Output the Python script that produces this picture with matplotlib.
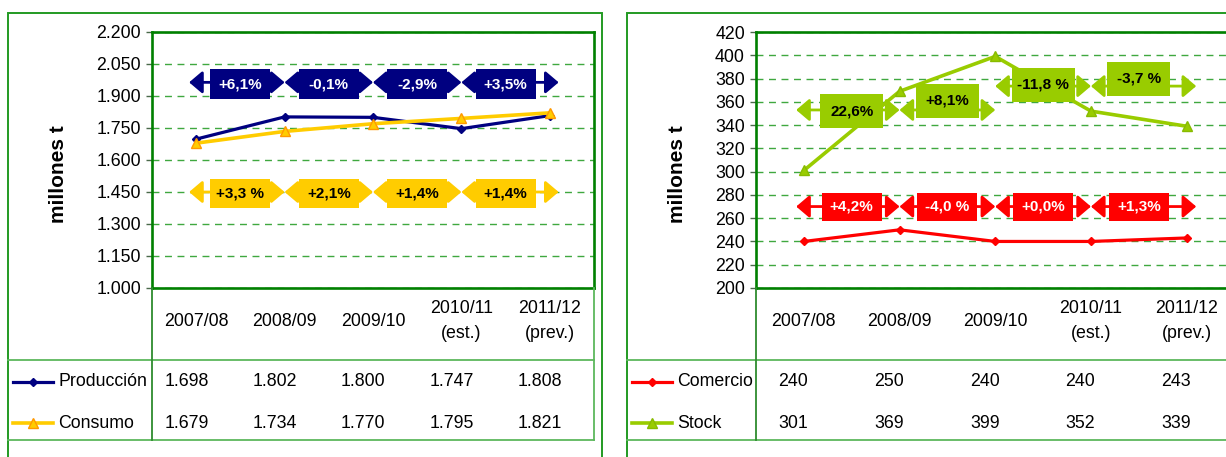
import matplotlib
matplotlib.use('Agg')
import matplotlib.pyplot as plt
from matplotlib.lines import Line2D
from matplotlib.patches import Rectangle
from matplotlib.ticker import FuncFormatter
from matplotlib.transforms import blended_transform_factory

plt.rcParams['font.family'] = ['Liberation Sans', 'DejaVu Sans']

# data
seasons = ['2007/08', '2008/09', '2009/10', '2010/11\n(est.)', '2011/12\n(prev.)']

produccion = [1698, 1802, 1800, 1747, 1808]
consumo = [1679, 1734, 1770, 1795, 1821]
comercio = [240, 250, 240, 240, 243]
stock = [301, 369, 399, 352, 339]

prod_pct = ['+6,1%', '-0,1%', '-2,9%', '+3,5%']
cons_pct = ['+3,3 %', '+2,1%', '+1,4%', '+1,4%']
com_pct = ['+4,2%', '-4,0 %', '+0,0%', '+1,3%']
stock_pct = ['22,6%', '+8,1%', '-11,8 %', '-3,7 %']

NAVY = '#000080'
YELLOW = '#FFCC00'
RED = '#FF0000'
LIME = '#99CC00'
DKGREEN = '#008000'
GRID = '#3FA83F'
TABLE = '#5DB85D'
FS = 12.8

W, H = 1226, 457
fig = plt.figure(figsize=(W / 100, H / 100), dpi=100)


def fx(px):
    return px / W


def fy(py):
    return 1 - py / H


def miles(v, pos=None):
    return f'{v:,.0f}'.replace(',', '.')


def setup_axes(left_px, width_px, ymin, ymax, step, fmt):
    ax = fig.add_axes([fx(left_px), fy(288), width_px / W, 256 / H])
    ax.set_xlim(-0.5, 4.5)
    ax.set_ylim(ymin, ymax)
    ax.set_yticks(range(ymin, ymax + 1, step))
    if fmt:
        ax.yaxis.set_major_formatter(FuncFormatter(fmt))
    ax.set_xticks([])
    ax.tick_params(axis='y', direction='out', length=4, width=1, color='#4A6A4A',
                   pad=4, labelsize=FS)
    ax.yaxis.grid(True, linestyle=(0, (5, 4)), color=GRID, lw=1)
    ax.set_axisbelow(True)
    for s in ax.spines.values():
        s.set_color(DKGREEN)
        s.set_linewidth(1.9)
    ax.px_w = width_px
    return ax


def pct_row(ax, labels, y_arrow, y_boxes, box_w, box_h, color, text_color):
    ymin, ymax = ax.get_ylim()
    xpp = 5 / ax.px_w
    ypp = (ymax - ymin) / 256
    bw = box_w * xpp
    bh = box_h * ypp
    for i, lab in enumerate(labels):
        x0 = i - 0.08 if i == 0 else i
        x1 = i + 1.1 if i == len(labels) - 1 else i + 1
        ya = y_arrow[i]
        ax.annotate('', xy=(x1, ya), xytext=(x0, ya),
                    arrowprops=dict(arrowstyle='<|-|>,head_length=0.8,head_width=0.68',
                                    mutation_scale=10, color=color, lw=2,
                                    shrinkA=0, shrinkB=0),
                    annotation_clip=False, zorder=4)
        xc = i + 0.5
        ax.add_patch(Rectangle((xc - bw / 2, y_boxes[i] - bh / 2), bw, bh,
                               facecolor=color, edgecolor='none', zorder=5))
        ax.text(xc, y_boxes[i], lab, ha='center', va='center', color=text_color,
                fontweight='bold', fontsize=11, zorder=6)


def fig_line(xs, ys, color, lw):
    fig.add_artist(Line2D([fx(x) for x in xs], [fy(y) for y in ys],
                          transform=fig.transFigure, color=color, lw=lw))


def panel_frame(x0, x_axis, x1, x_tab_right, ylabel_x):
    fig.add_artist(Rectangle((fx(x0), fy(470)), fx(x1) - fx(x0), fy(12.5) - fy(470),
                             transform=fig.transFigure, facecolor='none',
                             edgecolor='#229A22', lw=1.4))
    fig_line([x0, x_tab_right], [360, 360], TABLE, 1.3)
    fig_line([x0, x_tab_right], [440, 440], TABLE, 1.3)
    fig_line([x_axis, x_axis], [288, 440], '#2E8B2E', 1.3)
    fig.text(fx(ylabel_x), fy(174), 'millones t', rotation=90, ha='center', va='center',
             fontweight='bold', fontsize=15)


def table(ax, key_x0, names, series, styles, fmt):
    tr = blended_transform_factory(ax.transData, fig.transFigure)
    for i, s in enumerate(seasons):
        ax.text(i, fy(321), s, transform=tr, ha='center', va='center', fontsize=FS,
                linespacing=1.6, clip_on=False)
    for row, (name, vals, st) in enumerate(zip(names, series, styles)):
        yy = [382, 423][row]
        fig.add_artist(Line2D([fx(key_x0), fx(key_x0 + 20), fx(key_x0 + 40)], [fy(yy)] * 3,
                              transform=fig.transFigure, markevery=[1], **st))
        fig.text(fx(key_x0 + 45), fy(yy), name, ha='left', va='center', fontsize=FS)
        for i, v in enumerate(vals):
            ax.text(i - 0.11, fy(yy), fmt(v), transform=tr, ha='center', va='center',
                    fontsize=FS, clip_on=False)


# left panel
panel_frame(8, 152, 601.5, 594, 58)
fig_line([594, 594], [288, 440], TABLE, 1.3)
axL = setup_axes(152, 442, 1000, 2200, 150, miles)

prod_style = dict(color=NAVY, lw=2.3, marker='D', ms=4.5, mfc=NAVY, mec=NAVY)
cons_style = dict(color=YELLOW, lw=2.6, marker='^', ms=7, mfc=YELLOW, mec='#FF9900')
x = range(len(seasons))
axL.plot(x, produccion, zorder=3, **prod_style)
axL.plot(x, consumo, zorder=3, **cons_style)

pct_row(axL, prod_pct, [1964] * 4, [1956] * 4, 60, 30, NAVY, 'white')
pct_row(axL, cons_pct, [1450] * 4, [1443] * 4, 60, 29, YELLOW, 'black')

table(axL, 13, ['Producción', 'Consumo'], [produccion, consumo],
      [prod_style, cons_style], miles)

# right panel
panel_frame(627, 756, 1240, 1240, 678)
axR = setup_axes(756, 478.5, 200, 420, 20, None)

com_style = dict(color=RED, lw=2.3, marker='D', ms=4.5, mfc=RED, mec=RED)
stock_style = dict(color=LIME, lw=2.6, marker='^', ms=7, mfc=LIME, mec='#88BB00')
axR.plot(x, comercio, zorder=3, **com_style)
axR.plot(x, stock, zorder=3, **stock_style)

pct_row(axR, com_pct, [270] * 4, [270] * 4, 60, 28, RED, 'white')
pct_row(axR, stock_pct, [353, 353, 373.5, 373.5], [352, 361, 374.5, 380], 63, 34, LIME, 'black')

table(axR, 632, ['Comercio', 'Stock'], [comercio, stock],
      [com_style, stock_style], lambda v: f'{v:d}')

fig.savefig('out.png', dpi=100)
